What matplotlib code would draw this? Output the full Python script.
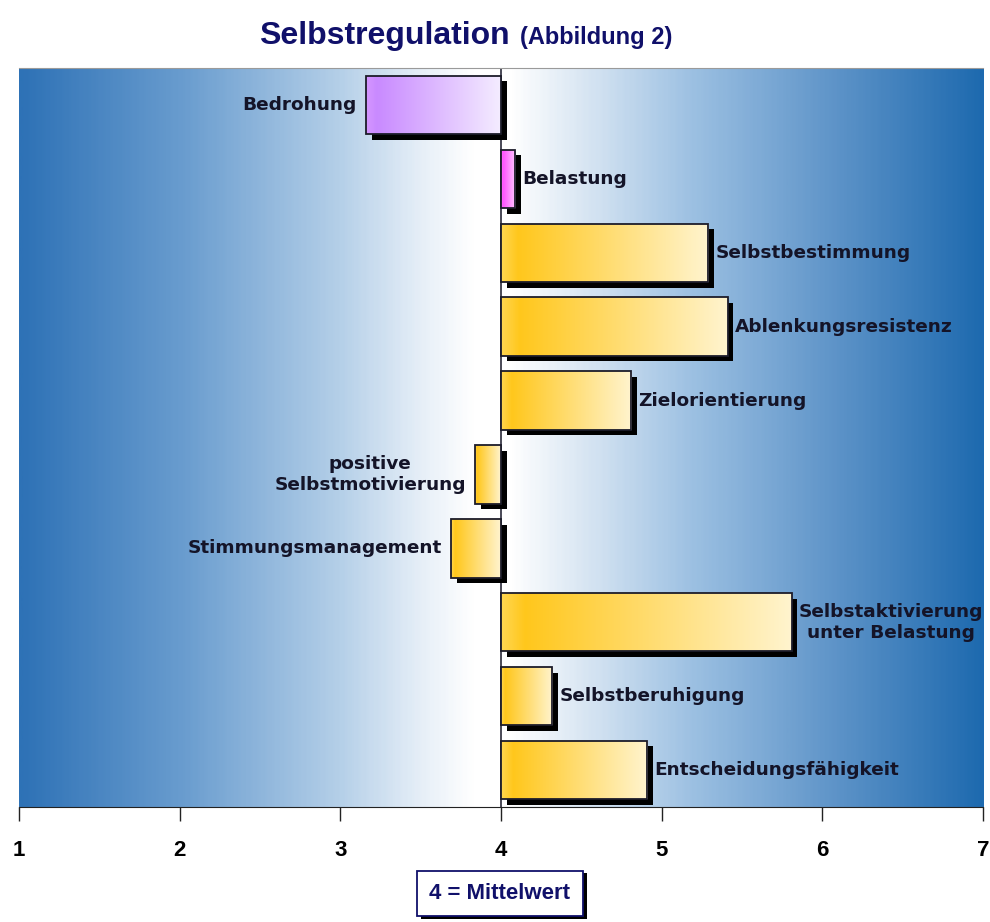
import numpy as np
import matplotlib.pyplot as plt
import matplotlib.patheffects as pe
from matplotlib.colors import LinearSegmentedColormap

# data (scale 1..7, 4 = mean)
labels = ['Bedrohung', 'Belastung', 'Selbstbestimmung', 'Ablenkungsresistenz',
          'Zielorientierung', 'positive\nSelbstmotivierung', 'Stimmungsmanagement',
          'Selbstaktivierung\nunter Belastung', 'Selbstberuhigung',
          'Entscheidungsfähigkeit']
values = [3.16, 4.09, 5.29, 5.41, 4.81, 3.84, 3.69, 5.81, 4.32, 4.91]
groups = ['violet', 'magenta', 'gold', 'gold', 'gold', 'gold', 'gold', 'gold', 'gold', 'gold']
ticks = [1, 2, 3, 4, 5, 6, 7]
mean = 4

bar_cmaps = {
    'gold': LinearSegmentedColormap.from_list('g', [(0, '#FFD650'), (0.08, '#FFC71C'), (1, '#FFF4CE')]),
    'violet': LinearSegmentedColormap.from_list('v', [(0, '#D596FF'), (0.08, '#C98AFF'), (1, '#F4ECFF')]),
    'magenta': LinearSegmentedColormap.from_list('m', [(0, '#FF70FF'), (0.15, '#FF55FF'), (1, '#FFC8FF')]),
}
bg_cmap = LinearSegmentedColormap.from_list('bg', [
    (0.0, '#2E72B6'), (0.17, '#6A9DCF'), (0.33, '#B4CFE8'), (0.42, '#E8F0F8'),
    (0.47, '#FFFFFF'), (0.51, '#FFFFFF'), (0.58, '#DCE8F4'), (0.7, '#9CC0E2'),
    (0.85, '#5D93C8'), (1.0, '#1E6AAF')])

fig = plt.figure(figsize=(9.9, 9.22), dpi=100)
ax = fig.add_axes([0.0192, 0.1247, 0.9738, 0.8015])

n = len(labels)
ax.set_xlim(1, 7)
ax.set_ylim(n - 0.5, -0.5)

# background gradient
grad = np.linspace(0, 1, 400).reshape(1, -1)
ax.imshow(grad, cmap=bg_cmap, aspect='auto', extent=[1, 7, n - 0.5, -0.5], zorder=0)

y = np.arange(n)
widths = [v - mean for v in values]
bars = ax.barh(y, widths, left=mean, height=0.79, color='white', edgecolor='none', zorder=2)
for b, g in zip(bars, groups):
    b.set_path_effects([pe.SimplePatchShadow(offset=(4, -4), shadow_rgbFace='black', alpha=1), pe.Normal()])
    x0, x1 = sorted([b.get_x(), b.get_x() + b.get_width()])
    yb, yt = b.get_y(), b.get_y() + b.get_height()
    im = ax.imshow(grad, cmap=bar_cmaps[g], aspect='auto', extent=[x0, x1, yt, yb], zorder=3)
    im.set_clip_path(b)
ax.barh(y, widths, left=mean, height=0.79, fill=False, edgecolor='#1c1c2a', linewidth=1.3, zorder=4)

# mean line
ax.axvline(mean, color='#2a2a3a', linewidth=1.2, zorder=1)

# labels
for yi, v, lab in zip(y, values, labels):
    if v >= mean:
        ax.text(v + 0.045, yi, lab, ha='left', va='center', multialignment='center',
                fontsize=13.3, fontweight='bold', color='#141428', zorder=5)
    else:
        ax.text(v - 0.06, yi, lab, ha='right', va='center', multialignment='center',
                fontsize=13.3, fontweight='bold', color='#141428', zorder=5)

# axes
for s in ['left', 'right']:
    ax.spines[s].set_visible(False)
ax.spines['top'].set_color('#9a9a9a')
ax.spines['bottom'].set_color('#222222')
ax.set_yticks([])
ax.set_xticks(ticks)
ax.set_xticklabels([str(t) for t in ticks], fontsize=16, fontweight='bold', family='Liberation Sans')
ax.tick_params(axis='x', length=10, width=1, pad=14, color='#222222')

# title
fig.text(0.515, 0.961, 'Selbstregulation', ha='right', va='center', fontsize=23,
         fontweight='bold', color='#10106a', family='Liberation Sans')
fig.text(0.525, 0.959, '(Abbildung 2)', ha='left', va='center', fontsize=17,
         fontweight='bold', color='#10106a', family='Liberation Sans')

# mean note box
note = fig.text(0.505, 0.031, '4 = Mittelwert', ha='center', va='center', fontsize=16,
                fontweight='bold', color='#10106a', family='Liberation Sans',
                bbox=dict(boxstyle='square,pad=0.55', facecolor='white', edgecolor='#10106a', linewidth=1.3))
note.get_bbox_patch().set_path_effects([pe.SimplePatchShadow(offset=(3, -2), shadow_rgbFace='black', alpha=1),
                                        pe.Normal()])

fig.savefig('out.png', dpi=100)
